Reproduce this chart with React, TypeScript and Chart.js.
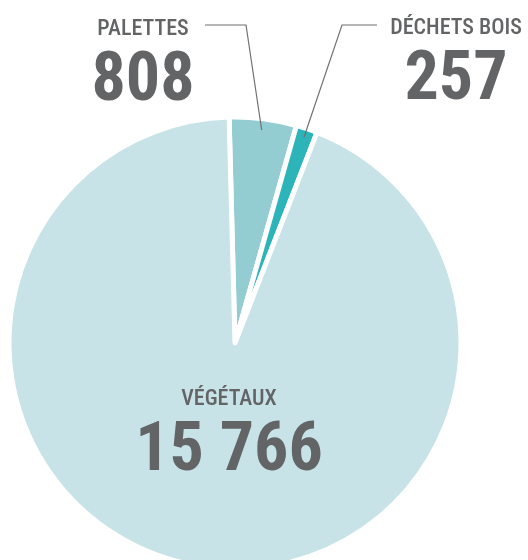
import React, { useEffect, useRef } from "react";
import { Chart, ArcElement, PieController } from "chart.js";

Chart.register(ArcElement, PieController);

// Data (clockwise from the top)
const categories = ["PALETTES", "DÉCHETS BOIS", "VÉGÉTAUX"];
const values = [808, 257, 15766];
const sliceColors = ["#93ccd1", "#2db4b8", "#c7e3e7"];

// Annotation layout (label anchors, leader elbows)
const labelCenters = [
  { x: 143, titleY: 35, valueY: 100 },
  { x: 456, titleY: 34, valueY: 99 },
  { x: 229, titleY: 405, valueY: 470 },
];
const leaders = [
  { startX: 205, elbowX: 246, y: 25, frac: 0.5, r: 0.95 },
  { startX: 377, elbowX: 342, y: 25, frac: 0.5, r: 0.96 },
  null,
];

const TEXT = "#636466";
const LINE = "#707174";
const FONT = '"Liberation Sans Narrow", "Roboto Condensed", "Arial Narrow", Roboto, sans-serif';

const fmt = (v: number) => String(v).replace(/\B(?=(\d{3})+(?!\d))/g, " ");

const labelPlugin = {
  id: "sliceLabels",
  afterDraw(chart: any) {
    const ctx = chart.ctx as CanvasRenderingContext2D;
    const meta = chart.getDatasetMeta(0);
    ctx.save();
    meta.data.forEach((arc: any, i: number) => {
      const p = arc.getProps(["x", "y", "startAngle", "endAngle", "outerRadius"], true);
      const L = labelCenters[i];
      ctx.fillStyle = TEXT;
      ctx.textAlign = "center";
      ctx.textBaseline = "alphabetic";
      ctx.font = `500 22px ${FONT}`;
      ctx.fillText(categories[i], L.x, L.titleY);
      ctx.font = `bold 68px ${FONT}`;
      ctx.fillText(fmt(values[i]), L.x, L.valueY);
      const ld = leaders[i];
      if (ld) {
        const a = p.startAngle + (p.endAngle - p.startAngle) * ld.frac;
        const ex = p.x + Math.cos(a) * p.outerRadius * ld.r;
        const ey = p.y + Math.sin(a) * p.outerRadius * ld.r;
        ctx.strokeStyle = LINE;
        ctx.lineWidth = 1.2;
        ctx.beginPath();
        ctx.moveTo(ld.startX, ld.y);
        ctx.lineTo(ld.elbowX, ld.y);
        ctx.lineTo(ex, ey);
        ctx.stroke();
      }
    });
    ctx.restore();
  },
};

export default function App() {
  const ref = useRef<HTMLCanvasElement>(null);
  useEffect(() => {
    if (!ref.current) return;
    const chart = new Chart(ref.current, {
      type: "pie",
      data: {
        labels: categories,
        datasets: [
          {
            data: values,
            backgroundColor: sliceColors,
            borderColor: "#ffffff",
            borderWidth: 5,
            borderJoinStyle: "round",
          } as any,
        ],
      },
      options: {
        responsive: false,
        animation: false,
        radius: 226,
        rotation: -1.5,
        layout: { padding: { left: 10, right: 68, top: 118, bottom: 52 } },
        plugins: { legend: { display: false }, tooltip: { enabled: false } },
      } as any,
      plugins: [labelPlugin],
    });
    return () => chart.destroy();
  }, []);
  return (
    <div
      style={{
        position: "fixed",
        left: 0,
        top: 0,
        width: 528,
        height: 560,
        overflow: "hidden",
        background: "#ffffff",
      }}
    >
      <canvas ref={ref} width={528} height={620} style={{ display: "block" }} />
    </div>
  );
}
